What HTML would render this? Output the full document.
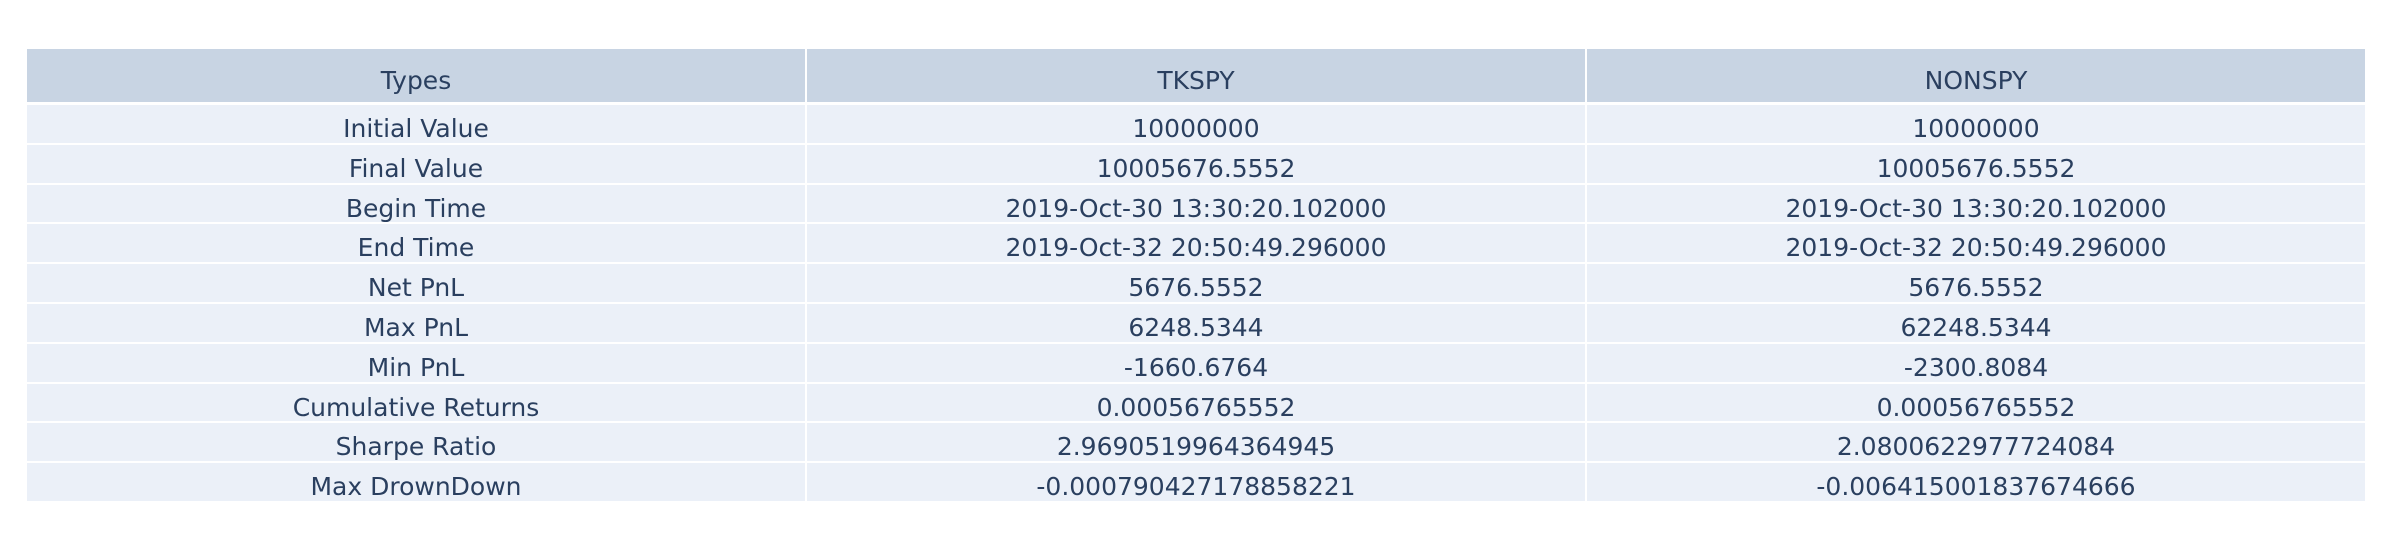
<!DOCTYPE html>
<html><head><meta charset="utf-8"><style>
body{margin:0;width:2406px;height:556px;background:#fff;overflow:hidden;font-family:"DejaVu Sans","Liberation Sans",sans-serif;}
.c{position:absolute;display:flex;align-items:center;justify-content:center;color:#2a3f5f;font-size:25px;box-sizing:border-box;padding-top:9px;}
.h{background:#c8d4e3;}
.b{background:#ebf0f8;}
</style></head><body>
<div id="t"></div>
<script>
const headers=["Types","TKSPY","NONSPY"];
const labels=["Initial Value","Final Value","Begin Time","End Time","Net PnL","Max PnL","Min PnL","Cumulative Returns","Sharpe Ratio","Max DrownDown"];
const tkspy=["10000000","10005676.5552","2019-Oct-30 13:30:20.102000","2019-Oct-32 20:50:49.296000","5676.5552","6248.5344","-1660.6764","0.00056765552","2.9690519964364945","-0.000790427178858221"];
const nonspy=["10000000","10005676.5552","2019-Oct-30 13:30:20.102000","2019-Oct-32 20:50:49.296000","5676.5552","62248.5344","-2300.8084","0.00056765552","2.0800622977724084","-0.006415001837674666"];
const t=document.getElementById('t');
const left=26,colW=780,hTop=48,hH=55,rTop=104,rH=39.8;
function cell(x,y,w,h,txt,cls,name){
  const d=document.createElement('div');
  d.className='c '+cls;
  d.style.left=(x+1)+'px';d.style.top=(y+1)+'px';d.style.width=(w-2)+'px';d.style.height=(h-2)+'px';
  d.textContent=txt;
  
  
  t.appendChild(d);
}
headers.forEach((hd,i)=>cell(left+i*colW,hTop,colW,hH,hd,'h','header-'+hd.toLowerCase()));
const cols=[labels,tkspy,nonspy];
for(let r=0;r<labels.length;r++){
  for(let c=0;c<3;c++){
    cell(left+c*colW,rTop+r*rH,colW,rH,cols[c][r],'b','cell-'+headers[c].toLowerCase()+'-'+r);
  }
}
</script>
</body></html>
